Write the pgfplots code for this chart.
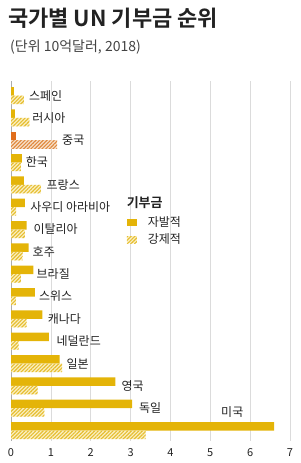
\documentclass[border=0pt]{standalone}
\usepackage{pgfplots}
\pgfplotsset{compat=1.18}
\usepackage{fontspec}
\setmainfont{Noto Sans CJK KR}[BoldFont={Noto Sans CJK KR Bold}]
\usetikzlibrary{patterns.meta}
\definecolor{gold}{HTML}{E4B408}
\definecolor{paleg}{HTML}{FBF0C4}
\definecolor{hatchg}{HTML}{E6BE30}
\definecolor{orng}{HTML}{E06E1C}
\definecolor{paleo}{HTML}{F8E2CC}
\definecolor{hatcho}{HTML}{E08A40}
\definecolor{txt}{HTML}{222222}
\pgfplotstableread{
y vol ass
15 0.075 0.325
14 0.10 0.46
12 0.27 0.25
11 0.32 0.75
10 0.35 0.13
9 0.39 0.35
8 0.44 0.29
7 0.56 0.25
6 0.60 0.12
5 0.79 0.39
4 0.95 0.19
3 1.22 1.28
2 2.62 0.67
1 3.04 0.84
0 6.60 3.38
}\donors
\pgfplotstableread{
y vol ass
13 0.12 1.16
}\china
\begin{document}
\begin{tikzpicture}[font=\fontsize{12}{14}\selectfont, text=txt]
\path[use as bounding box] (-11pt,-22pt) rectangle (289pt,441pt);
\begin{axis}[
  at={(0pt,0pt)}, anchor=south west,
  scale only axis, width=279pt, height=360pt,
  xmin=0, xmax=7, ymin=-0.47, ymax=15.65,
  xbar, bar width=8.5pt,
  axis lines*=left,
  x axis line style={draw=none},
  y axis line style={draw=gray!65, -},
  ytick=\empty,
  xtick={0,1,2,3,4,5,6,7},
  xmajorgrids, grid style={gray!28, line width=0.6pt},
  major tick length=0pt,
  /pgf/number format/assume math mode=true,
  xticklabel style={font=\fontsize{11}{13}\selectfont, text=txt, yshift=-4pt},
  clip=false,
  legend style={at={(axis cs:2.9,9.68)}, anchor=north west, draw=none, fill=none,
    font=\fontsize{12}{14}\selectfont, row sep=2pt, inner sep=0pt,
    legend cell align=left},
  legend image code/.code={\path[#1] (0pt,-3.5pt) rectangle (10pt,3.5pt);},
]
\addplot[draw=none, fill=gold, bar shift=4.25pt] table[x=vol, y=y]{\donors};
\addlegendentry{\hspace{9pt}자발적}
\addplot[draw=none, fill=paleg, bar shift=-4.25pt,
  postaction={pattern={Lines[angle=45, distance=2.6pt, line width=1.15pt]}, pattern color=hatchg}]
  table[x=ass, y=y]{\donors};
\addlegendentry{\hspace{9pt}강제적}
\addplot[forget plot, draw=none, fill=orng, bar shift=4.25pt] table[x=vol, y=y]{\china};
\addplot[forget plot, draw=none, fill=paleo, bar shift=-4.25pt,
  postaction={pattern={Lines[angle=45, distance=2.6pt, line width=1.15pt]}, pattern color=hatcho}]
  table[x=ass, y=y]{\china};
\node[anchor=west, inner sep=0pt] at (axis cs:0.45,15) {스페인};
\node[anchor=west, inner sep=0pt] at (axis cs:0.53,14) {러시아};
\node[anchor=west, inner sep=0pt] at (axis cs:1.28,13) {중국};
\node[anchor=west, inner sep=0pt] at (axis cs:0.37,12) {한국};
\node[anchor=west, inner sep=0pt] at (axis cs:0.89,11) {프랑스};
\node[anchor=west, inner sep=0pt] at (axis cs:0.48,10) {사우디 아라비아};
\node[anchor=west, inner sep=0pt] at (axis cs:0.56,9) {이탈리아};
\node[anchor=west, inner sep=0pt] at (axis cs:0.54,8) {호주};
\node[anchor=west, inner sep=0pt] at (axis cs:0.64,7) {브라질};
\node[anchor=west, inner sep=0pt] at (axis cs:0.70,6) {스위스};
\node[anchor=west, inner sep=0pt] at (axis cs:0.92,5) {캐나다};
\node[anchor=west, inner sep=0pt] at (axis cs:1.14,4) {네덜란드};
\node[anchor=west, inner sep=0pt] at (axis cs:1.39,3) {일본};
\node[anchor=west, inner sep=0pt] at (axis cs:2.77,2) {영국};
\node[anchor=west, inner sep=0pt] at (axis cs:3.21,1) {독일};
\node[anchor=west, inner sep=0pt] at (axis cs:5.27,0.85) {미국};
\node[anchor=west, inner sep=0pt, font=\fontsize{13}{15}\selectfont\bfseries] at (axis cs:2.9,10.19) {기부금};
\end{axis}
\node[anchor=base west, inner sep=0pt, font=\fontsize{22}{26}\selectfont\bfseries] at (-3pt,414pt) {국가별 UN 기부금 순위};
\node[anchor=base west, inner sep=0pt, font=\fontsize{14}{16}\selectfont, text=txt!85] at (-1pt,389pt) {(단위 10억달러, 2018)};
\end{tikzpicture}
\end{document}
